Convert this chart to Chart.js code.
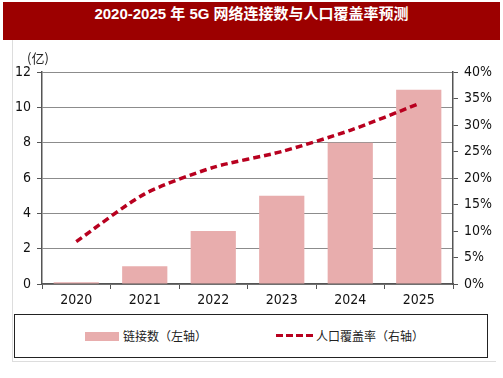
<!DOCTYPE html>
<html>
<head>
<meta charset="utf-8">
<script src="https://cdn.jsdelivr.net/npm/chart.js@4"></script>
<style>
  body { margin: 0; background: #fff; width: 503px; height: 378px; position: relative; overflow: hidden; }
  #title {
    position: absolute; left: 3px; top: 2px; width: 497px; height: 38px;
    background: #9c0000; color: #fff; text-align: center; line-height: 38px;
    font: bold 15px "Liberation Sans", "Noto Sans CJK SC", sans-serif;
  }
  #frame {
    position: absolute; left: 12px; top: 40px; width: 483px; height: 321px;
    border-left: 1px solid #ddd; border-bottom: 1px solid #ddd;
  }
  #chart { position: absolute; left: 0; top: 40px; }
  #unit {
    position: absolute; left: 27px; top: 48px;
    font: 13px "Noto Sans CJK SC", sans-serif; color: #222;
  }
  #legend {
    position: absolute; left: 14px; top: 314px; width: 472px; height: 42px;
    border: 1.5px solid #222; font: 12px "Noto Sans CJK SC", sans-serif; color: #222;
  }
  .item { position: absolute; top: 13px; height: 16px; line-height: 16px; }
  .swatch { position: absolute; top: 4px; }
</style>
</head>
<body>
<div id="title">2020-2025 年 5G 网络连接数与人口覆盖率预测</div>
<div id="frame"></div>
<canvas id="chart" width="503" height="274"></canvas>
<div id="unit">(亿)</div>
<div id="legend">
  <div class="item" style="left:70px;">
    <div class="swatch" style="left:0; width:34px; height:9px; background:#e8adad;"></div>
    <span style="margin-left:38px;">链接数（左轴）</span>
  </div>
  <div class="item" style="left:261px;">
    <div class="swatch" style="left:0; top:6px; width:37px; height:3px;
      background: repeating-linear-gradient(90deg, #b8001f 0 7px, transparent 7px 10px);"></div>
    <span style="margin-left:40px;">人口覆盖率（右轴）</span>
  </div>
</div>
<script>
// Categories and values
var years = ["2020", "2021", "2022", "2023", "2024", "2025"];
var connections = [0.1, 1, 3, 5, 8, 11];        // 亿
var coverage = [8, 17, 22, 25, 29, 34];          // %

var leftTicks = { min: 0, max: 12, step: 2 };
var rightTicks = { min: 0, max: 40, step: 5 };

var barColor = "#e8adad";
var lineColor = "#b8001f";
var tickFont = { family: '"Liberation Sans Narrow", "DejaVu Sans Condensed", sans-serif', size: 14 };

var ctx = document.getElementById("chart");

new Chart(ctx, {
    type: "bar",
    data: {
        labels: years,
        datasets: [{
            type: "line",
            label: "人口覆盖率（右轴）",
            data: coverage,
            yAxisID: "y1",
            borderColor: lineColor,
            borderWidth: 3.5,
            borderDash: [7, 4],
            pointRadius: 0,
            tension: 0.25,
            fill: false
        }, {
            type: "bar",
            label: "链接数（左轴）",
            data: connections,
            yAxisID: "y",
            backgroundColor: barColor,
            barPercentage: 0.66,
            categoryPercentage: 1.0
        }]
    },
    options: {
        responsive: false,
        animation: false,
        layout: { padding: { top: 32, left: 0, right: 0, bottom: 0 } },
        plugins: { legend: { display: false }, tooltip: { enabled: false } },
        scales: {
            x: {
                offset: true,
                grid: { offset: true, drawOnChartArea: false, tickLength: 5, tickColor: "#555" },
                border: { color: "#555", width: 1.5 },
                ticks: { color: "#111", font: tickFont, padding: 3 },
                afterFit: function(scale) { scale.height = 30; }
            },
            y: {
                position: "left",
                min: leftTicks.min,
                max: leftTicks.max,
                grid: { color: "#8c8c8c", lineWidth: 1, tickLength: 5, tickColor: "#555" },
                border: { color: "#555", width: 1.5 },
                ticks: { stepSize: leftTicks.step, color: "#111", font: tickFont, padding: 6 },
                afterFit: function(scale) { scale.width = 42; }
            },
            y1: {
                position: "right",
                min: rightTicks.min,
                max: rightTicks.max,
                grid: { drawOnChartArea: false, tickLength: 5, tickColor: "#555" },
                border: { color: "#555", width: 1.5 },
                ticks: {
                    stepSize: rightTicks.step, color: "#111", font: tickFont, padding: 6,
                    callback: function(v) { return v + "%"; }
                },
                afterFit: function(scale) { scale.width = 50; }
            }
        }
    }
});
</script>
</body>
</html>
